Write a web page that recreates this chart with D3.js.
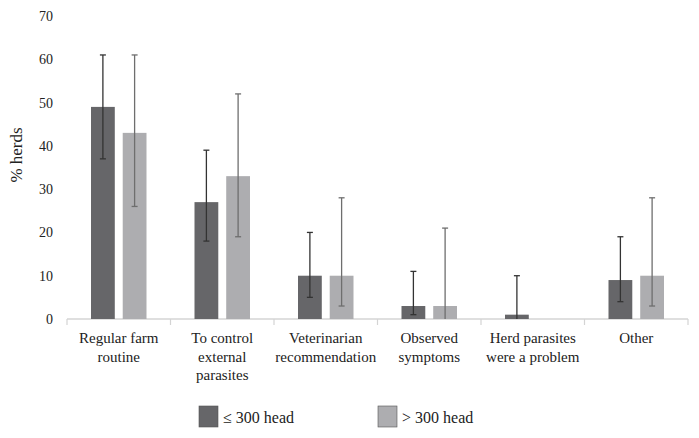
<!DOCTYPE html>
<html>
<head>
<meta charset="utf-8">
<script src="https://cdn.jsdelivr.net/npm/d3@7"></script>
<style>
  body { margin: 0; background: #fff; }
</style>
</head>
<body>
<div id="chart"></div>
<script>
// categories (label lines) and values
var categories = [
    ["Regular farm", "routine"],
    ["To control", "external", "parasites"],
    ["Veterinarian", "recommendation"],
    ["Observed", "symptoms"],
    ["Herd parasites", "were a problem"],
    ["Other"]
];
var seriesNames = ["\u2264 300 head", "> 300 head"];
var smallHerds = [49, 27, 10, 3, 1, 9];
var smallLow   = [37, 18, 5, 1, 0, 4];
var smallHigh  = [61, 39, 20, 11, 10, 19];
var largeHerds = [43, 33, 10, 3, 0, 10];
var largeLow   = [26, 19, 3, 0, null, 3];
var largeHigh  = [61, 52, 28, 21, null, 28];
var yTicks = [0, 10, 20, 30, 40, 50, 60, 70];

var width = 699, height = 438;
var margin = {top: 16, left: 67, right: 11, bottom: 119};
var FONT = "'Liberation Serif', 'Times New Roman', serif";

var barColors = ["#666669", "#adadb0"];
var errColors = ["#333333", "#6e6e6e"];

var svg = d3.select("#chart").append("svg")
    .attr("width", width)
    .attr("height", height)
    .style("font-family", FONT);

var plotW = width - margin.left - margin.right;
var plotH = height - margin.top - margin.bottom;

var x0 = d3.scaleBand()
    .domain(d3.range(categories.length))
    .range([0, plotW])
    .paddingInner(0)
    .paddingOuter(0);

var x1 = d3.scaleBand()
    .domain([0, 1])
    .range([24, x0.bandwidth() - 24])
    .paddingInner(0.25);

var y = d3.scaleLinear().domain([0, 70]).range([plotH, 0]);

var g = svg.append("g")
    .attr("transform", "translate(" + margin.left + "," + margin.top + ")");

// y tick labels only, no axis line
var yAxis = g.append("g")
    .call(d3.axisLeft(y).tickValues(yTicks).tickSize(0).tickPadding(14));
yAxis.attr("font-family", null).attr("font-size", null);
yAxis.select(".domain").remove();
yAxis.selectAll("text")
    .style("font-size", "14px")
    .style("font-family", FONT)
    .attr("fill", "#222");

// x axis: light line with ticks at category boundaries
var xAxis = g.append("g")
    .attr("transform", "translate(0," + plotH + ")");
xAxis.append("line")
    .attr("x1", 0).attr("x2", plotW)
    .attr("stroke", "#d4d4d4").attr("stroke-width", 1.5);
xAxis.selectAll(".tk")
    .data(d3.range(categories.length + 1)).enter()
    .append("line")
        .attr("x1", function(d) {return d < categories.length ? x0(d) : plotW;})
        .attr("x2", function(d) {return d < categories.length ? x0(d) : plotW;})
        .attr("y1", 0).attr("y2", 6)
        .attr("stroke", "#d4d4d4").attr("stroke-width", 1.2);

// category labels
var labels = xAxis.selectAll(".cat")
    .data(categories).enter()
    .append("text")
        .attr("text-anchor", "middle")
        .style("font-size", "15px")
        .style("font-family", FONT)
        .attr("fill", "#222")
        .attr("transform", function(d, i) {
            return "translate(" + (x0(i) + x0.bandwidth() / 2) + ",24)";
        });
labels.selectAll("tspan")
    .data(function(d) {return d;}).enter()
    .append("tspan")
        .attr("x", 0)
        .attr("dy", function(d, i) {return i === 0 ? 0 : 18.5;})
        .text(function(d) {return d;});

// bars
var series = [
    {v: smallHerds, lo: smallLow, hi: smallHigh},
    {v: largeHerds, lo: largeLow, hi: largeHigh}
];

series.forEach(function(s, si) {
    var data = s.v.map(function(v, i) {return {i: i, v: v, lo: s.lo[i], hi: s.hi[i]};});

    g.selectAll(".bar" + si)
        .data(data.filter(function(d) {return d.v > 0;})).enter()
        .append("rect")
            .attr("x", function(d) {return x0(d.i) + x1(si);})
            .attr("y", function(d) {return y(d.v);})
            .attr("width", x1.bandwidth())
            .attr("height", function(d) {return plotH - y(d.v);})
            .attr("fill", barColors[si]);

    var eb = g.selectAll(".err" + si)
        .data(data.filter(function(d) {return d.hi !== null;})).enter()
        .append("g")
            .attr("transform", function(d) {
                return "translate(" + (x0(d.i) + x1(si) + x1.bandwidth() / 2) + ",0)";
            })
            .attr("stroke", errColors[si])
            .attr("stroke-width", 1.3);
    eb.append("line")
        .attr("y1", function(d) {return y(d.lo);})
        .attr("y2", function(d) {return y(d.hi);});
    eb.append("line")
        .attr("x1", -3).attr("x2", 3)
        .attr("y1", function(d) {return y(d.hi);})
        .attr("y2", function(d) {return y(d.hi);});
    eb.filter(function(d) {return d.lo > 0;}).append("line")
        .attr("x1", -3).attr("x2", 3)
        .attr("y1", function(d) {return y(d.lo);})
        .attr("y2", function(d) {return y(d.lo);});
});

// y axis title
svg.append("text")
    .attr("transform", "translate(22,155) rotate(-90)")
    .attr("text-anchor", "middle")
    .style("font-size", "17px")
    .style("font-family", FONT)
    .attr("fill", "#222")
    .text("% herds");

// legend
var legend = svg.selectAll(".leg")
    .data(seriesNames).enter()
    .append("g")
        .attr("transform", function(d, i) {
            return "translate(" + (199 + i * 179) + ",406)";
        });
legend.append("rect")
    .attr("width", 19).attr("height", 21)
    .attr("fill", function(d, i) {return barColors[i];})
    .attr("stroke", "#555").attr("stroke-width", 0.6);
legend.append("text")
    .attr("x", 24).attr("y", 17)
    .style("font-size", "16px")
    .style("font-family", FONT)
    .attr("fill", "#222")
    .text(function(d) {return d;});
</script>
</body>
</html>
